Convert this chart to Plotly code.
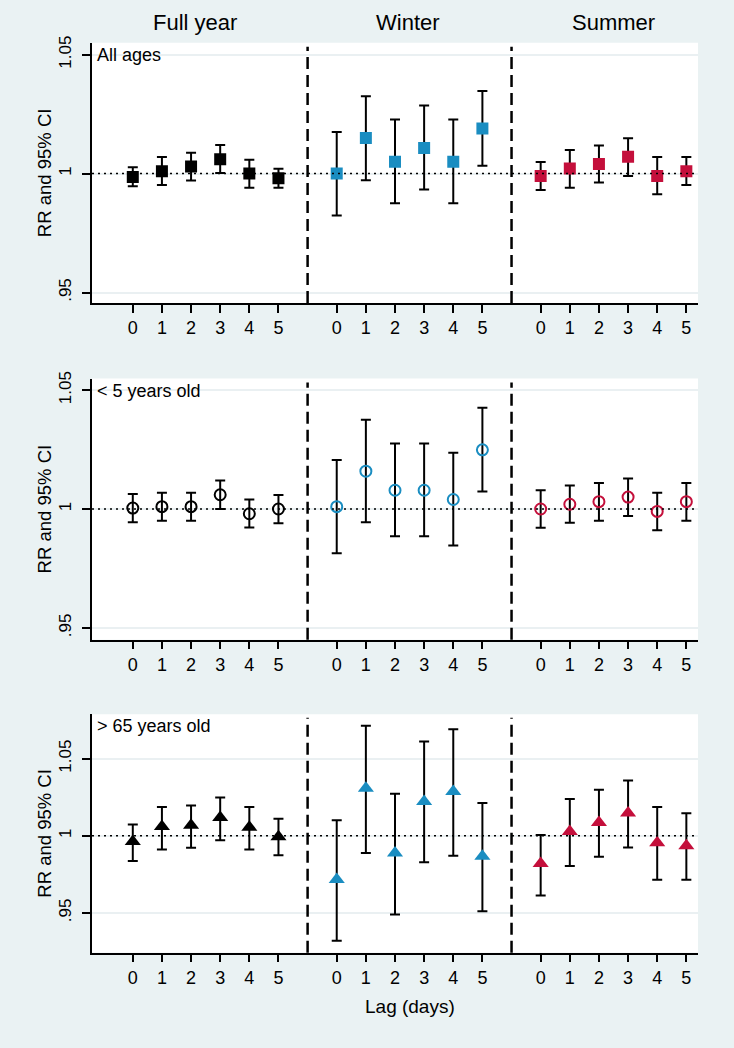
import plotly.graph_objects as go

# ---- data ----
lags = [0, 1, 2, 3, 4, 5]
seasons = ["Full year", "Winter", "Summer"]
panel_labels = ["All ages", "< 5 years old", "> 65 years old"]

# Panel 1: All ages
all_full_rr = [0.9986, 1.0010, 1.0030, 1.0060, 1.0000, 0.9980]
all_full_lo = [0.9947, 0.9952, 0.9971, 1.0002, 0.9940, 0.9940]
all_full_hi = [1.0027, 1.0070, 1.0088, 1.0120, 1.0058, 1.0020]
all_win_rr = [1.0000, 1.0150, 1.0050, 1.0108, 1.0050, 1.0190]
all_win_lo = [0.9824, 0.9972, 0.9875, 0.9933, 0.9875, 1.0033]
all_win_hi = [1.0175, 1.0325, 1.0227, 1.0286, 1.0227, 1.0347]
all_sum_rr = [0.9990, 1.0021, 1.0040, 1.0071, 0.9990, 1.0010]
all_sum_lo = [0.9931, 0.9940, 0.9963, 0.9990, 0.9913, 0.9952]
all_sum_hi = [1.0049, 1.0099, 1.0118, 1.0149, 1.0070, 1.0070]

# Panel 2: < 5 years old
u5_full_rr = [1.0004, 1.0010, 1.0010, 1.0060, 0.9980, 1.0000]
u5_full_lo = [0.9944, 0.9951, 0.9951, 1.0000, 0.9922, 0.9940]
u5_full_hi = [1.0063, 1.0068, 1.0068, 1.0120, 1.0040, 1.0059]
u5_win_rr = [1.0010, 1.0159, 1.0079, 1.0079, 1.0040, 1.0249]
u5_win_lo = [0.9814, 0.9944, 0.9885, 0.9885, 0.9846, 1.0074]
u5_win_hi = [1.0206, 1.0375, 1.0276, 1.0276, 1.0237, 1.0426]
u5_sum_rr = [1.0000, 1.0020, 1.0031, 1.0050, 0.9990, 1.0031]
u5_sum_lo = [0.9921, 0.9942, 0.9951, 0.9971, 0.9911, 0.9951]
u5_sum_hi = [1.0079, 1.0099, 1.0109, 1.0128, 1.0068, 1.0109]

# Panel 3: > 65 years old
o65_full_rr = [0.9964, 1.0060, 1.0069, 1.0118, 1.0056, 0.9994]
o65_full_lo = [0.9837, 0.9912, 0.9923, 0.9972, 0.9912, 0.9874]
o65_full_hi = [1.0073, 1.0187, 1.0196, 1.0249, 1.0187, 1.0110]
o65_win_rr = [0.9717, 1.0309, 0.9889, 1.0223, 1.0288, 0.9867]
o65_win_lo = [0.9320, 0.9889, 0.9490, 0.9829, 0.9871, 0.9511]
o65_win_hi = [1.0101, 1.0714, 1.0273, 1.0611, 1.0691, 1.0212]
o65_sum_rr = [0.9820, 1.0028, 1.0086, 1.0148, 0.9955, 0.9936]
o65_sum_lo = [0.9614, 0.9805, 0.9865, 0.9925, 0.9715, 0.9715]
o65_sum_hi = [1.0006, 1.0238, 1.0298, 1.0358, 1.0187, 1.0146]

y_tickvals = [0.95, 1.0, 1.05]
y_ticktext = [".95", "1", "1.05"]

# ---- styling ----
BG = "#EAF2F3"
COLORS = ["#000000", "#1A8DC1", "#C40F3B"]
OFFSETS = [0, 7, 14]
DIVIDERS = [6, 13]
W, H = 734, 1048

panels = [
    dict(label=panel_labels[0], symbol="square",
         data=[(all_full_rr, all_full_lo, all_full_hi),
               (all_win_rr, all_win_lo, all_win_hi),
               (all_sum_rr, all_sum_lo, all_sum_hi)],
         yrange=[0.9456, 1.0550], top=36, bottom=298),
    dict(label=panel_labels[1], symbol="circle-open",
         data=[(u5_full_rr, u5_full_lo, u5_full_hi),
               (u5_win_rr, u5_win_lo, u5_win_hi),
               (u5_sum_rr, u5_sum_lo, u5_sum_hi)],
         yrange=[0.9450, 1.0549], top=374, bottom=637),
    dict(label=panel_labels[2], symbol="triangle-up",
         data=[(o65_full_rr, o65_full_lo, o65_full_hi),
               (o65_win_rr, o65_win_lo, o65_win_hi),
               (o65_sum_rr, o65_sum_lo, o65_sum_hi)],
         yrange=[0.9243, 1.0788], top=712, bottom=952),
]

x_left, x_right = 92, 698
xrange_ = [-1.4, 19.4]

fig = go.Figure()
layout = dict(
    width=W, height=H, paper_bgcolor=BG, plot_bgcolor="white",
    margin=dict(l=0, r=0, t=0, b=0), showlegend=False,
    font=dict(family="Liberation Sans, Arial, sans-serif", color="black"),
)
shapes = []
annotations = []

tickvals_x = [o + l for o in OFFSETS for l in lags]
ticktext_x = [str(l) for _ in OFFSETS for l in lags]

for i, p in enumerate(panels):
    n = i + 1
    xa = "x" if n == 1 else f"x{n}"
    ya = "y" if n == 1 else f"y{n}"
    for s, (rr, lo, hi) in enumerate(p["data"]):
        xs = [OFFSETS[s] + l for l in lags]
        sym = p["symbol"]
        marker = dict(symbol=sym, color=COLORS[s],
                      size=12 if sym == "square" else (11 if sym == "circle-open" else 14))
        if sym == "circle-open":
            marker["line"] = dict(width=2, color=COLORS[s])
        fig.add_trace(go.Scatter(
            x=xs, y=rr, mode="markers", xaxis=xa, yaxis=ya,
            marker=marker, hoverinfo="skip",
            error_y=dict(type="data", symmetric=False,
                         array=[h - r for h, r in zip(hi, rr)],
                         arrayminus=[r - l_ for r, l_ in zip(rr, lo)],
                         color="black", thickness=2, width=5),
        ))
    xdom = [x_left / W, x_right / W]
    ydom = [1 - p["bottom"] / H, 1 - p["top"] / H]
    layout["xaxis" if n == 1 else f"xaxis{n}"] = dict(
        domain=xdom, range=xrange_, anchor=ya,
        tickmode="array", tickvals=tickvals_x, ticktext=ticktext_x,
        ticks="outside", ticklen=8, tickwidth=1.5, tickcolor="black",
        showline=True, linecolor="black", linewidth=1.5,
        showgrid=False, zeroline=False,
        tickfont=dict(size=18, color="black"),
    )
    layout["yaxis" if n == 1 else f"yaxis{n}"] = dict(
        domain=ydom, range=p["yrange"], anchor=xa,
        tickmode="array", tickvals=y_tickvals, ticktext=y_ticktext,
        tickangle=-90, ticks="outside", ticklen=8, tickwidth=1.5, tickcolor="black",
        ticklabelstandoff=4,
        showline=True, linecolor="black", linewidth=1.5,
        showgrid=True, gridcolor="#EAF0F2", gridwidth=2, zeroline=False,
        tickfont=dict(size=17, color="black"),
        title=dict(text="RR and 95% CI", font=dict(size=18.5, color="black"), standoff=0),
    )
    # dotted reference line at 1
    shapes.append(dict(type="line", xref=f"{xa} domain", yref=ya,
                       x0=0, x1=1, y0=1, y1=1,
                       line=dict(color="black", width=1.5, dash="2px,4px"), layer="above"))
    # dashed dividers
    for d in DIVIDERS:
        shapes.append(dict(type="line", xref=xa, yref=f"{ya} domain",
                           x0=d, x1=d, y0=0, y1=0.985,
                           line=dict(color="black", width=2.5, dash="12px,6px")))
    annotations.append(dict(text=p["label"], xref=f"{xa} domain", yref=f"{ya} domain",
                            x=0.005, y=1.0, xanchor="left", yanchor="top",
                            showarrow=False, font=dict(size=18, color="black")))

title_x = [2.15, 9.45, 16.5]
for t, xv in zip(seasons, title_x):
    annotations.append(dict(text=t, xref="x", yref="paper", x=xv, y=1 - 16 / H,
                            xanchor="center", yanchor="middle", showarrow=False,
                            font=dict(size=22, color="black")))
annotations.append(dict(text="Lag (days)", xref="x3", yref="paper", x=9.5, y=1 - 1006 / H,
                        xanchor="center", yanchor="middle", showarrow=False,
                        font=dict(size=19, color="black")))

layout["shapes"] = shapes
layout["annotations"] = annotations
fig.update_layout(**layout)
fig.write_html("out.html", config={"displayModeBar": False},
               post_script="document.body.style.margin='0';document.body.style.padding='0';")
